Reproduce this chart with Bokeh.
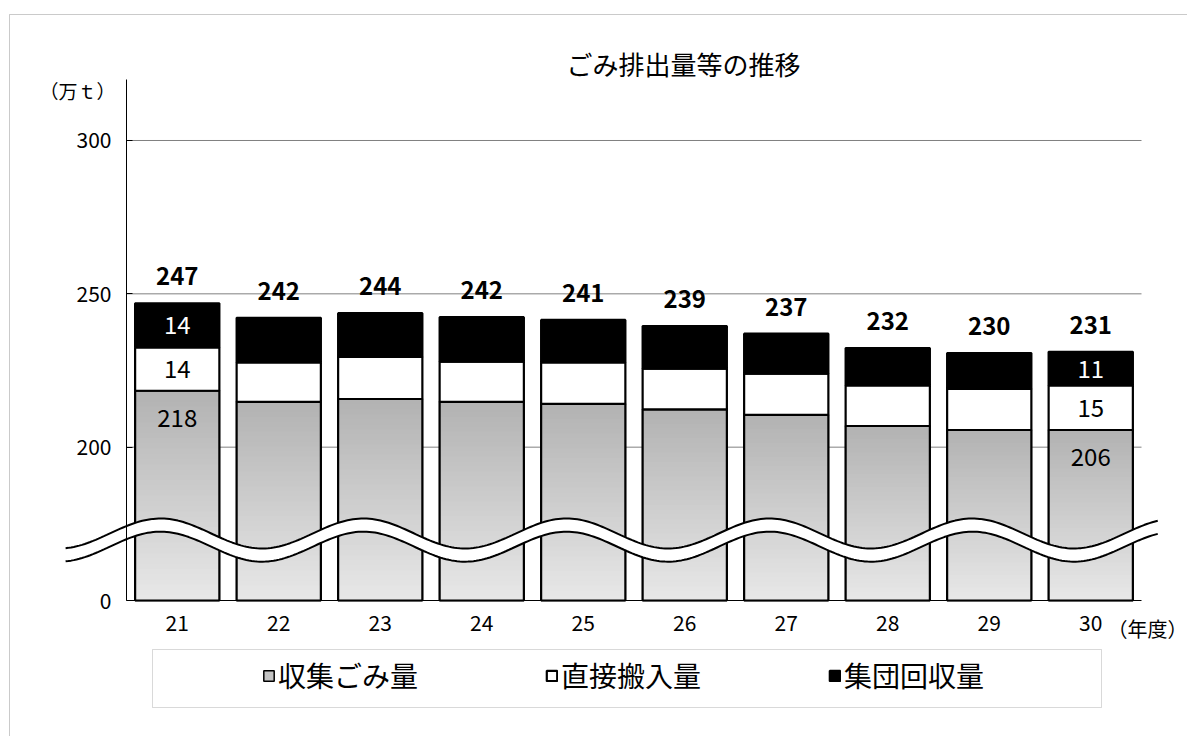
import numpy as np
from bokeh.plotting import figure
from bokeh.models import (FixedTicker, Label, BoxAnnotation, Legend, LegendItem, Range1d)
from bokeh.core.properties import value
from bokeh.embed import file_html
from bokeh.resources import INLINE

# ---------------- data ----------------
years = ["21", "22", "23", "24", "25", "26", "27", "28", "29", "30"]
collected = [218.4, 214.8, 215.7, 214.8, 214.1, 212.3, 210.5, 206.9, 205.6, 205.6]  # 収集ごみ量
direct = [14.1, 12.8, 13.7, 13.1, 13.5, 13.3, 13.5, 13.2, 13.4, 14.5]              # 直接搬入量
group = [14.4, 14.6, 14.3, 14.5, 13.9, 13.9, 13.0, 12.2, 11.7, 11.0]               # 集団回収量
total_labels = [247, 242, 244, 242, 241, 239, 237, 232, 230, 231]

seg_label_years = ["21", "30"]
collected_labels = [218, 206]
direct_labels = [14, 15]
group_labels = [14, 11]

y_ticks = [150, 200, 250, 300]
y_tick_labels = ["0", "200", "250", "300"]
grid_ticks = [200, 250, 300]
y_top = 320
series_names = ["収集ごみ量", "直接搬入量", "集団回収量"]

title_text = "ごみ排出量等の推移"
y_unit = "（万ｔ）"
x_unit = "（年度）"

JP = "Noto Sans CJK JP"
NUM = "Noto Sans CJK JP"

# ---------------- layout constants (pixels) ----------------
CW, CH = 1187, 736
PX_CAT = 101.5           # px per category
PX_UNIT = 3.0667         # px per y unit
AX_LEFT_PX, AX_BOTTOM_PX = 126, 600
floor = y_ticks[0]
x_lo = -0.5
x_hi = len(years) - 0.5

p = figure(width=CW, height=CH, output_backend="svg", toolbar_location=None,
           title=None,
           x_range=Range1d(x_lo - AX_LEFT_PX / PX_CAT, x_lo + (CW - AX_LEFT_PX) / PX_CAT),
           y_range=Range1d(floor - (CH - AX_BOTTOM_PX) / PX_UNIT, floor + AX_BOTTOM_PX / PX_UNIT),
           min_border_left=0, min_border_right=0, min_border_top=0, min_border_bottom=0)
p.outline_line_color = None
p.background_fill_color = "white"
p.border_fill_color = "white"
p.xgrid.visible = False
p.ygrid.visible = False

idx = np.arange(len(years))
coll = np.array(collected)
cum2 = coll + np.array(direct)
cum3 = cum2 + np.array(group)
W = 0.83

# grid lines (behind bars)
p.segment(x0=[x_lo] * len(grid_ticks), x1=[x_hi] * len(grid_ticks),
          y0=grid_ticks, y1=grid_ticks, line_color="#808080", line_width=1)

# collected segment: base (used for the legend), gradient, outline
r_coll = p.vbar(x=idx, width=W, bottom=floor, top=coll, fill_color="#c4c4c4",
                line_color="black", line_width=1.5)
N = 40
fr = np.linspace(0, 1, N + 1)
L, R, B, T, C = [], [], [], [], []
for i in idx:
    h = coll[i] - floor
    for k in range(N):
        L.append(i - W / 2)
        R.append(i + W / 2)
        B.append(floor + h * fr[k])
        T.append(min(floor + h * fr[k + 1] + 0.4, coll[i]))
        g = int(round(232 - (232 - 178) * (fr[k] + fr[k + 1]) / 2))
        C.append("#%02x%02x%02x" % (g, g, g))
p.quad(left=L, right=R, bottom=B, top=T, fill_color=C, line_color=None)
p.vbar(x=idx, width=W, bottom=floor, top=coll, fill_color=None,
       line_color="black", line_width=2.2)
r_direct = p.vbar(x=idx, width=W, bottom=coll, top=cum2, fill_color="white",
                  line_color="black", line_width=2.2)
r_group = p.vbar(x=idx, width=W, bottom=cum2, top=cum3, fill_color="black",
                 line_color="black", line_width=2.2)

# axis-break wave
wx = np.linspace(-1.10, 9.66, 400)
up = 171.85 + 4.89 * np.cos(np.pi * (wx + 0.165))
lo = up - 4.3
p.varea(x=wx, y1=lo, y2=up, fill_color="white")
p.line(x=wx, y=up, line_color="black", line_width=2)
p.line(x=wx, y=lo, line_color="black", line_width=2)

# totals
p.text(x=idx, y=cum3, text=[str(v) for v in total_labels],
       text_font=value(NUM), text_font_style="bold", text_font_size="24px",
       text_align="center", text_baseline="middle", y_offset=-27,
       text_color="black")

# segment labels for first and last years
sel = np.array([years.index(y) for y in seg_label_years])
p.text(x=sel, y=coll[sel], text=[str(v) for v in collected_labels],
       text_font=value(NUM), text_font_size="24px", text_align="center",
       text_baseline="middle", y_offset=27, text_color="black")
p.text(x=sel, y=(coll[sel] + cum2[sel]) / 2, text=[str(v) for v in direct_labels],
       text_font=value(NUM), text_font_size="24px", text_align="center",
       text_baseline="middle", text_color="black")
p.text(x=sel, y=(cum2[sel] + cum3[sel]) / 2, text=[str(v) for v in group_labels],
       text_font=value(NUM), text_font_size="24px", text_align="center",
       text_baseline="middle", text_color="white")

# axes (placed at fixed data locations)
xa = p.xaxis[0]
xa.fixed_location = floor
xa.bounds = (x_lo, x_hi)
xa.ticker = FixedTicker(ticks=list(idx))
xa.major_label_overrides = {int(i): y for i, y in zip(idx, years)}
xa.major_tick_in = 0
xa.major_tick_out = 0
xa.minor_tick_line_color = None
xa.axis_line_color = "black"
xa.major_label_text_font = NUM
xa.major_label_text_font_size = "21px"
xa.major_label_text_color = "black"
xa.major_label_standoff = 14

ya = p.yaxis[0]
ya.fixed_location = x_lo
ya.bounds = (floor, y_top)
ya.ticker = FixedTicker(ticks=y_ticks)
ya.major_label_overrides = {t: s for t, s in zip(y_ticks, y_tick_labels)}
ya.major_tick_in = 6
ya.major_tick_out = 0
ya.major_tick_line_color = "black"
ya.minor_tick_line_color = None
ya.axis_line_color = "black"
ya.major_label_text_font = NUM
ya.major_label_text_font_size = "21px"
ya.major_label_text_color = "black"
ya.major_label_standoff = 15

# texts
p.add_layout(Label(x=683, y=CH - 63, x_units="screen", y_units="screen", text=title_text,
                   text_font=JP, text_font_size="26px", text_align="center",
                   text_baseline="middle", text_color="black"))
p.add_layout(Label(x=77, y=CH - 90, x_units="screen", y_units="screen", text=y_unit,
                   text_font=JP, text_font_size="19px", text_align="center",
                   text_baseline="middle", text_color="black"))
p.add_layout(Label(x=1147, y=CH - 628, x_units="screen", y_units="screen", text=x_unit,
                   text_font=JP, text_font_size="20px", text_align="center",
                   text_baseline="middle", text_color="black"))

# legend box and legend
p.add_layout(BoxAnnotation(left=152, right=1101, top=CH - 649, bottom=CH - 707,
                           left_units="screen", right_units="screen",
                           top_units="screen", bottom_units="screen",
                           fill_color=None, fill_alpha=0, line_color="#808080",
                           line_width=1))
legend = Legend(items=[LegendItem(label=series_names[0], renderers=[r_coll]),
                       LegendItem(label=series_names[1], renderers=[r_direct]),
                       LegendItem(label=series_names[2], renderers=[r_group])],
                orientation="horizontal", location=(262, CH - 695),
                glyph_width=13, glyph_height=13, label_standoff=3, spacing=127,
                padding=0, margin=0, border_line_color=None,
                background_fill_alpha=0, label_text_font=JP,
                label_text_font_size="28px", label_height=30,
                label_text_color="black")
p.add_layout(legend)

# outer border
p.add_layout(BoxAnnotation(left=9, right=4000, top=CH - 14, bottom=-4000,
                           left_units="screen", right_units="screen",
                           top_units="screen", bottom_units="screen",
                           fill_color=None, fill_alpha=0, line_color="#505050",
                           line_width=1))

open("out.html", "w").write(file_html(p, INLINE))
